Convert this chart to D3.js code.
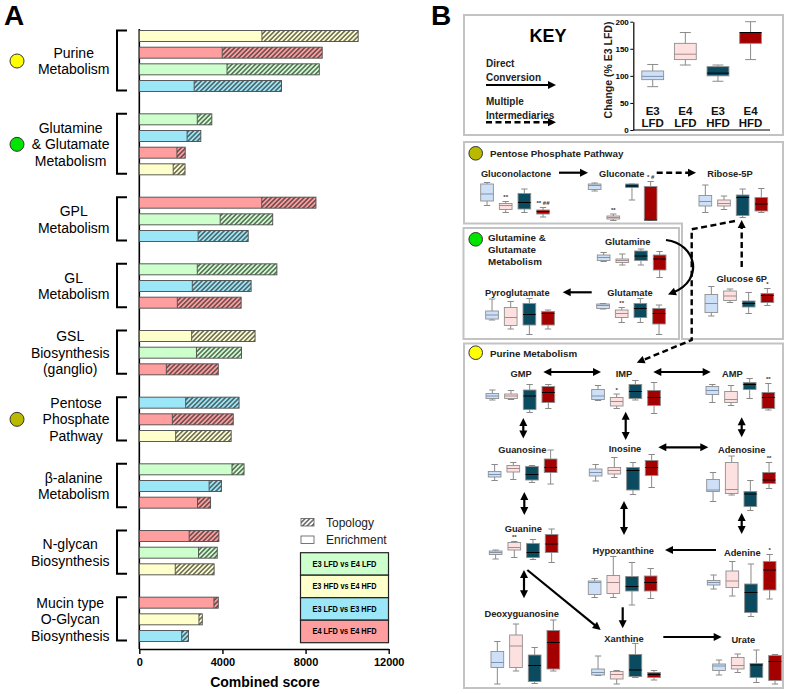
<!DOCTYPE html>
<html><head><meta charset="utf-8">
<script src="https://cdn.jsdelivr.net/npm/d3@7"></script>
<style>
body{margin:0;background:#fff}
svg{display:block}
text{font-family:Arial,"Liberation Sans",Helvetica,sans-serif}
</style>
</head><body>
<svg id="c" width="787" height="694"></svg>
<script>
// ================= DATA: Panel A =================
const pathwayLabels = [
  ["Purine","Metabolism"],
  ["Glutamine","& Glutamate","Metabolism"],
  ["GPL","Metabolism"],
  ["GL","Metabolism"],
  ["GSL","Biosynthesis","(ganglio)"],
  ["Pentose","Phosphate","Pathway"],
  ["β-alanine","Metabolism"],
  ["N-glycan","Biosynthesis"],
  ["Mucin type","O-Glycan","Biosynthesis"]
];
const comparisons = ["E3 LFD vs E4 LFD","E3 HFD vs E4 HFD","E3 LFD vs E3 HFD","E4 LFD vs E4 HFD"];
const comparisonColors = ["#ccffcc","#ffffcc","#9be6f7","#ff9e9e"];
// comparison index for each bar (top to bottom) in each pathway
const barComparison = [[1,3,0,2],[0,2,3,1],[3,0,2],[0,2,3],[1,0,3],[2,3,1],[0,2,3],[3,0,1],[3,1,2]];
const enrichmentScores = [
  [5900,3990,4220,2640],[2790,2300,1810,1630],[5890,3890,2830],[2790,2550,1830],
  [2520,2750,1300],[2230,1590,1750],[4460,3360,2800],[2400,2850,1730],[3590,2870,2040]
];
const combinedScores = [
  [10530,8800,8660,6840],[3490,2960,2210,2200],[8500,6420,5240],[6620,5380,4900],
  [5570,4920,3800],[4800,4520,4420],[5040,3950,3430],[3830,3750,3600],[3800,3030,2370]
];
const pathwayMarkerColors = ["#ffff00","#00e400",null,null,null,"#b9b900",null,null,null];
const xTicks = [0,4000,8000,12000];

// ================= DATA: Panel B =================
const boxGroups = ["E3 LFD","E4 LFD","E3 HFD","E4 HFD"];
const boxColors = ["#cde0f7","#fde0e0","#0b4b5f","#a50000"];
const keyStats = [[80,93,99,109,121],[120,130,140,160,180],[90,100,105,117,120],[130,160,180,180,200]]; // min,q1,med,q3,max (% E3 LFD)
const keyTicks = [0,50,100,150,200];
const metabolites = ["Gluconolactone","Gluconate","Ribose-5P","Glutamine","Glutamate","Pyroglutamate","Glucose 6P",
  "GMP","IMP","AMP","Guanosine","Inosine","Adenosine","Guanine","Hypoxanthine","Adenine","Deoxyguanosine","Xanthine","Urate"];
// relative level per group: [min, q1, median, q3, max]
const metaboliteStats = [
  [[29,38,52,72,75],[15,21,29,33,37],[15,22,35,53,62],[6,12,17,20,25]],
  [[62,65,73,76,78],[3,6,9,12,16],[44,69,72,76,76],[4,4,4,71,81]],
  [[19,32,41,53,74],[25,32,37,44,52],[9,13,49,54,66],[19,22,36,49,67]],
  [[37,39,45,50,55],[30,35,39,42,52],[30,39,48,58,62],[5,20,42,50,57]],
  [[56,57,63,66,67],[29,39,47,54,59],[29,39,57,67,77],[5,26,47,57,64]],
  [[34,36,44,52,76],[16,23,39,59,71],[5,24,45,67,77],[16,24,47,51,54]],
  [[8,15,33,51,67],[35,39,48,58,62],[13,26,33,38,55],[29,35,49,53,63]],
  [[30,33,38,43,50],[31,33,38,42,49],[5,11,38,50,61],[13,25,45,57,61]],
  [[29,31,38,51,59],[13,18,27,35,42],[30,33,47,61,69],[3,19,35,49,65]],
  [[25,41,49,57,61],[19,25,31,47,59],[33,51,61,65,73],[10,13,35,45,63]],
  [[19,26,31,37,51],[21,36,43,49,55],[15,20,31,47,49],[12,35,45,62,80]],
  [[38,48,55,62,71],[45,52,59,65,85],[11,20,59,65,75],[25,49,65,79,91]],
  [[27,47,50,71,85],[40,43,51,105,118],[9,17,42,47,69],[53,63,70,85,105]],
  [[12,21,25,28,30],[15,30,35,45,47],[11,15,25,43,51],[5,25,42,61,72]],
  [[25,31,55,58,63],[25,33,55,69,107],[10,38,47,67,95],[23,38,55,68,83]],
  [[62,70,75,79,90],[48,65,78,98,117],[7,15,55,72,112],[42,60,100,117,131]],
  [[8,41,51,73,93],[34,41,84,106,128],[9,13,45,66,81],[34,38,91,115,136]],
  [[25,26,31,38,64],[8,18,27,33,35],[21,23,36,67,89],[16,21,27,31,35]],
  [[26,35,44,48,56],[31,38,45,61,68],[11,21,46,49,76],[8,15,53,65,67]]
];
const significance = [
  ["Gluconolactone",1,"**"],["Gluconolactone",3,"** ##"],["Gluconate",1,"**"],["Gluconate",3,"* #"],
  ["Glutamate",1,"**"],["Glucose 6P",3,"*"],["IMP",1,"*"],["AMP",3,"**"],["Adenosine",3,"**"],
  ["Guanine",1,"**"],["Adenine",3,"*"]
];

// ================= LAYOUT (positions only) =================
// [labelX, labelY, firstBoxLeft, plotBaseline]
const metaboliteLayout = [
  [516,173.3,480.7,220],[621.7,173.3,588.3,222],[730,173.3,699,222],
  [627.7,241.7,597.3,280],[630,292.7,596.7,337],[517.3,292.7,485.7,337],[741.7,279,705,320],
  [521,373.3,486,415],[624,373.3,591.7,415],[732.3,373.3,706,415],
  [522.3,449.3,488.3,490],[625,449,589.3,500],[741.7,450,706.7,515],
  [523.3,528.3,489.3,565],[623.3,550.7,588.3,610],[742.3,552.3,707.3,620],
  [521.7,613.3,491,688],[624,638.3,591.7,688],[743.3,639.3,712.7,688]
];

const svg = d3.select("#c");
svg.append("rect").attr("width",787).attr("height",694).attr("fill","#fff");
const defs = svg.append("defs");

// hatch patterns
comparisonColors.concat(["#ffffff"]).forEach((c,i)=>{
  const p = defs.append("pattern").attr("id","hatch"+i).attr("patternUnits","userSpaceOnUse")
    .attr("width",3.3).attr("height",3.3).attr("patternTransform","rotate(45)");
  p.append("rect").attr("width",3.3).attr("height",3.3).attr("fill",c);
  p.append("line").attr("x1",1.65).attr("x2",1.65).attr("y1",0).attr("y2",3.3)
    .attr("stroke","#2a2a2a").attr("stroke-width",1.1);
});

// ================= PANEL A =================
const gA = svg.append("g");
gA.append("text").attr("x",4).attr("y",25).attr("font-size",28).attr("font-weight","bold").text("A");

const slots = [];
const barRecords = [];
pathwayLabels.forEach((lab,p)=>{
  barComparison[p].forEach((c,j)=>{
    const id = p+"-"+j;
    slots.push(id);
    barRecords.push({p,j,c,id,e:enrichmentScores[p][j],t:combinedScores[p][j]});
  });
  if (p < pathwayLabels.length-1) slots.push("gap"+p);
});
const x = d3.scaleLinear().domain([0,12000]).range([139.3,388.7]);
const y = d3.scaleBand().domain(slots).range([27.67,644.33]).paddingInner(0.34).paddingOuter(0.17);

// y axis line
gA.append("line").attr("x1",x(0)).attr("x2",x(0)).attr("y1",29).attr("y2",649)
  .attr("stroke","#000").attr("stroke-width",1.6);

const bars = gA.append("g").selectAll("g").data(barRecords).join("g");
bars.append("rect").attr("x",d=>x(0)).attr("y",d=>y(d.id)).attr("width",d=>x(d.e)-x(0))
  .attr("height",y.bandwidth()).attr("fill",d=>comparisonColors[d.c]);
bars.append("rect").attr("x",d=>x(d.e)).attr("y",d=>y(d.id)).attr("width",d=>x(d.t)-x(d.e))
  .attr("height",y.bandwidth()).attr("fill",d=>"url(#hatch"+d.c+")");
bars.append("rect").attr("x",d=>x(0)).attr("y",d=>y(d.id)).attr("width",d=>x(d.t)-x(0))
  .attr("height",y.bandwidth()).attr("fill","none").attr("stroke","#4a4a4a").attr("stroke-width",0.9);
bars.append("line").attr("x1",d=>x(d.e)).attr("x2",d=>x(d.e)).attr("y1",d=>y(d.id)).attr("y2",d=>y(d.id)+y.bandwidth())
  .attr("stroke","#4a4a4a").attr("stroke-width",0.9);

// brackets, labels, markers
pathwayLabels.forEach((lab,p)=>{
  const n = barComparison[p].length;
  const c0 = y(p+"-0")+y.bandwidth()/2, c1 = y(p+"-"+(n-1))+y.bandwidth()/2;
  const top = c0-5.5, bot = c1+4.5;
  gA.append("path").attr("d",`M127,${top}H117V${bot}H127`).attr("fill","none")
    .attr("stroke","#000").attr("stroke-width",2);
  const mid = (c0+c1)/2;
  const lh = 16.67;
  const tg = gA.append("g");
  const texts = lab.map((t,i)=> tg.append("text").attr("font-size",14).attr("text-anchor","middle")
    .attr("y", mid + (i-(lab.length-1)/2)*lh + 5).text(t));
  let maxW = 0; texts.forEach(t=>{maxW=Math.max(maxW,t.node().getComputedTextLength());});
  texts.forEach(t=>t.attr("x",109.5-maxW/2));
  if (pathwayMarkerColors[p]) {
    gA.append("circle").attr("cx",17).attr("cy",mid).attr("r",7)
      .attr("fill",pathwayMarkerColors[p]).attr("stroke","#333").attr("stroke-width",1);
  }
});

// x axis
const xAxis = gA.append("g").attr("transform","translate(0,649)")
  .call(d3.axisBottom(x).tickValues(xTicks).tickSize(5).tickSizeOuter(0).tickFormat(d3.format("d")));
xAxis.select(".domain").attr("stroke-width",1.6);
xAxis.selectAll(".tick line").attr("stroke-width",1.4);
xAxis.selectAll("text").attr("font-size",11).attr("font-weight","bold").attr("font-family","Arial, Liberation Sans, sans-serif").attr("dy","0.85em");
gA.append("text").attr("x",265).attr("y",687).attr("text-anchor","middle").attr("font-size",14)
  .attr("font-weight","bold").text("Combined score");

// legend
gA.append("rect").attr("x",301).attr("y",518.5).attr("width",13).attr("height",7.5)
  .attr("fill","url(#hatch4)").attr("stroke","#555").attr("stroke-width",0.8);
gA.append("text").attr("x",326).attr("y",526.5).attr("font-size",12).attr("fill","#222").text("Topology");
gA.append("rect").attr("x",301).attr("y",536).attr("width",13).attr("height",7.5)
  .attr("fill","#fff").attr("stroke","#555").attr("stroke-width",0.8);
gA.append("text").attr("x",326).attr("y",544).attr("font-size",12).attr("fill","#222").text("Enrichment");
const legY = d3.scaleBand().domain(comparisons).range([552.7,642.7]);
gA.append("g").selectAll("rect").data(comparisons).join("rect")
  .attr("x",300.5).attr("y",d=>legY(d)).attr("width",88).attr("height",legY.bandwidth())
  .attr("fill",(d,i)=>comparisonColors[i]).attr("stroke","#222").attr("stroke-width",1.2);
gA.append("g").selectAll("text").data(comparisons).join("text")
  .attr("x",344.5).attr("y",d=>legY(d)+legY.bandwidth()/2+3).attr("text-anchor","middle")
  .attr("font-size",8.5).attr("font-weight","bold").attr("textLength",64).attr("lengthAdjust","spacingAndGlyphs")
  .text(d=>d);

// ================= PANEL B =================
const gB = svg.append("g");
gB.append("text").attr("x",431).attr("y",25).attr("font-size",28).attr("font-weight","bold").text("B");

const frame = "#c3c3c3";
gB.append("rect").attr("x",464).attr("y",15).attr("width",319).attr("height",120)
  .attr("fill","none").attr("stroke",frame).attr("stroke-width",2);
gB.append("path").attr("d","M464,142H783V339H682V223.5H464Z").attr("fill","none").attr("stroke",frame).attr("stroke-width",2);
gB.append("rect").attr("x",463.5).attr("y",228).attr("width",215.5).attr("height",111)
  .attr("fill","none").attr("stroke",frame).attr("stroke-width",2);
gB.append("rect").attr("x",464).attr("y",343.5).attr("width",319).attr("height",344.5)
  .attr("fill","none").attr("stroke",frame).attr("stroke-width",2);

// headers
const headers = [
  {cy:153.3,color:"#b9b900",lines:["Pentose Phosphate Pathway"],ty:157},
  {cy:239.3,color:"#00e400",lines:["Glutamine &","Glutamate","Metabolism"],ty:240.5},
  {cy:352.7,color:"#ffff00",lines:["Purine Metabolism"],ty:356.8}
];
headers.forEach(h=>{
  gB.append("circle").attr("cx",475.7).attr("cy",h.cy).attr("r",6.8).attr("fill",h.color)
    .attr("stroke","#333").attr("stroke-width",1);
  h.lines.forEach((t,i)=>gB.append("text").attr("x",i===0&&h.lines.length===1?490:488).attr("y",h.ty+i*12.3)
    .attr("font-size",9.8).attr("font-weight","bold").attr("fill","#222").text(t));
});

// KEY
gB.append("text").attr("x",548).attr("y",42).attr("text-anchor","middle").attr("font-size",18)
  .attr("font-weight","bold").text("KEY");
[["Direct",66.5],["Conversion",80.5],["Multiple",104.5],["Intermediaries",118.5]].forEach(([t,yy])=>
  gB.append("text").attr("x",486).attr("y",yy).attr("font-size",10).attr("font-weight","bold").attr("fill","#222").text(t));

// arrows helper
const arrowLayer = svg.append("g");
function head(g,x1,y1,x2,y2){
  const a = Math.atan2(y2-y1,x2-x1), L=8, W=4;
  const bx = x2-L*Math.cos(a), by = y2-L*Math.sin(a);
  g.append("path").attr("d",`M${x2},${y2}L${bx+W*Math.sin(a)},${by-W*Math.cos(a)}L${bx-W*Math.sin(a)},${by+W*Math.cos(a)}Z`)
    .attr("fill","#000");
  return [bx+2*Math.cos(a),by+2*Math.sin(a)];
}
function arrow(pts,opt={}){
  const g = arrowLayer.append("g");
  const p = pts.map(d=>d.slice());
  const n = p.length;
  const e = head(g,p[n-2][0],p[n-2][1],p[n-1][0],p[n-1][1]);
  p[n-1] = e;
  if (opt.both){ const s = head(g,p[1][0],p[1][1],pts[0][0],pts[0][1]); p[0]=s; }
  g.append("path").attr("d",d3.line()(p)).attr("fill","none").attr("stroke","#000")
    .attr("stroke-width",opt.dashed?2.4:2.2).attr("stroke-dasharray",opt.dashed?"6,3.5":null);
}
// key arrows
arrow([[486,85],[556,85]]);
arrow([[486,122.3],[556,122.3]],{dashed:true});
// pathway arrows
arrow([[559,172.7],[588,172.7]]);
arrow([[656.7,172.7],[696,172.7]],{dashed:true});
arrow([[741.7,267],[741.7,220]],{dashed:true});
arrow([[735,221],[691.7,229.3],[691.7,340],[636.7,362.7]],{dashed:true});
arrow([[591.7,292.3],[562.7,292.3]]);
(function(){
  const g = arrowLayer.append("g");
  const e = head(g,696,283,668,294.5);
  g.append("path").attr("d",`M666,240C697,244 704,280 ${e[0]},${e[1]}`).attr("fill","none")
    .attr("stroke","#000").attr("stroke-width",2.2);
})();
arrow([[543.3,372],[601,372]],{both:true});
arrow([[653.3,372],[710.7,372]],{both:true});
arrow([[523.3,418],[523.3,438.5]],{both:true});
arrow([[625.7,411.7],[625.7,440]],{both:true});
arrow([[741.7,417.3],[741.7,437.3]],{both:true});
arrow([[658.3,447.3],[708.3,447.3]],{both:true});
arrow([[524.3,492],[524.3,515]],{both:true});
arrow([[624,501],[624,535]],{both:true});
arrow([[741.7,513],[741.7,534]],{both:true});
arrow([[716,550],[665,550]]);
arrow([[524,570],[524,598.3]],{both:true});
arrow([[527.3,570],[600.7,630]]);
arrow([[622.7,607.3],[622.7,628.3]]);
arrow([[663.3,637],[721.7,637]]);

// box drawing
const medianColors = ["#7d93b0","#a88a8a","#000","#000"];
function drawBoxes(g, stats, band, yS, capFrac){
  stats.forEach((s,i)=>{
    const grp = boxGroups[i];
    const bx = band(grp), bw = band.bandwidth(), cx = bx+bw/2;
    const cw = bw*capFrac;
    g.append("line").attr("x1",cx).attr("x2",cx).attr("y1",yS(s[0])).attr("y2",yS(s[4]))
      .attr("stroke","#8a8a8a").attr("stroke-width",1);
    [s[0],s[4]].forEach(v=>g.append("line").attr("x1",cx-cw/2).attr("x2",cx+cw/2)
      .attr("y1",yS(v)).attr("y2",yS(v)).attr("stroke","#8a8a8a").attr("stroke-width",1));
    g.append("rect").attr("x",bx).attr("y",yS(s[3])).attr("width",bw)
      .attr("height",Math.max(1.5,yS(s[1])-yS(s[3]))).attr("fill",boxColors[i])
      .attr("stroke","#8f8f8f").attr("stroke-width",0.9);
    g.append("line").attr("x1",bx).attr("x2",bx+bw).attr("y1",yS(s[2])).attr("y2",yS(s[2]))
      .attr("stroke",medianColors[i]).attr("stroke-width",1);
  });
}

// metabolite box plots
const boxLayer = gB.append("g");
metabolites.forEach((m,k)=>{
  const [lx,ly,x0,base] = metaboliteLayout[k];
  const band = d3.scaleBand().domain(boxGroups).range([x0-3,x0-3+74.67]).paddingInner(0.32).paddingOuter(0.16);
  const yS = d3.scaleLinear().domain([0,100]).range([base,base-50]);
  boxLayer.append("text").attr("x",lx).attr("y",ly+3.3).attr("text-anchor","middle")
    .attr("font-size",9.3).attr("font-weight","bold").attr("fill","#222").text(m);
  drawBoxes(boxLayer, metaboliteStats[k], band, yS, 0.5);
  significance.filter(s=>s[0]===m).forEach(s=>{
    boxLayer.append("text").attr("x",band(boxGroups[s[1]])+band.bandwidth()/2)
      .attr("y",yS(metaboliteStats[k][s[1]][4])-2.5).attr("text-anchor","middle")
      .attr("font-size",6).attr("font-weight","bold").attr("fill","#333").text(s[2]);
  });
});

// key box plot
const keyG = gB.append("g");
const ky = d3.scaleLinear().domain([0,200]).range([130,21.7]);
const kx = d3.scaleBand().domain(boxGroups).range([633.3,770]).paddingInner(0.33).paddingOuter(0.26);
const kAxis = keyG.append("g").attr("transform","translate(633.3,0)")
  .call(d3.axisLeft(ky).tickValues(keyTicks).tickSize(3).tickPadding(1.5).tickSizeOuter(0));
kAxis.selectAll("text").attr("font-size",8).attr("font-weight","bold").attr("font-family","Arial, Liberation Sans, sans-serif");
kAxis.select(".domain").attr("stroke-width",1.2);
keyG.append("line").attr("x1",633.3).attr("x2",770).attr("y1",130).attr("y2",130).attr("stroke","#000").attr("stroke-width",1.2);
drawBoxes(keyG, keyStats, kx, ky, 0.5);
boxGroups.forEach(gname=>{
  const [a,b] = gname.split(" ");
  const cx = kx(gname)+kx.bandwidth()/2;
  keyG.append("text").attr("x",cx).attr("y",114.5).attr("text-anchor","middle").attr("font-size",11.5)
    .attr("font-weight","bold").attr("fill","#111").text(a);
  keyG.append("text").attr("x",cx).attr("y",127).attr("text-anchor","middle").attr("font-size",11.5)
    .attr("font-weight","bold").attr("fill","#111").text(b);
});
keyG.append("text").attr("transform","translate(612,70) rotate(-90)").attr("text-anchor","middle")
  .attr("font-size",10.5).attr("font-weight","bold").attr("fill","#222").text("Change (% E3 LFD)");
</script>
</body></html>
